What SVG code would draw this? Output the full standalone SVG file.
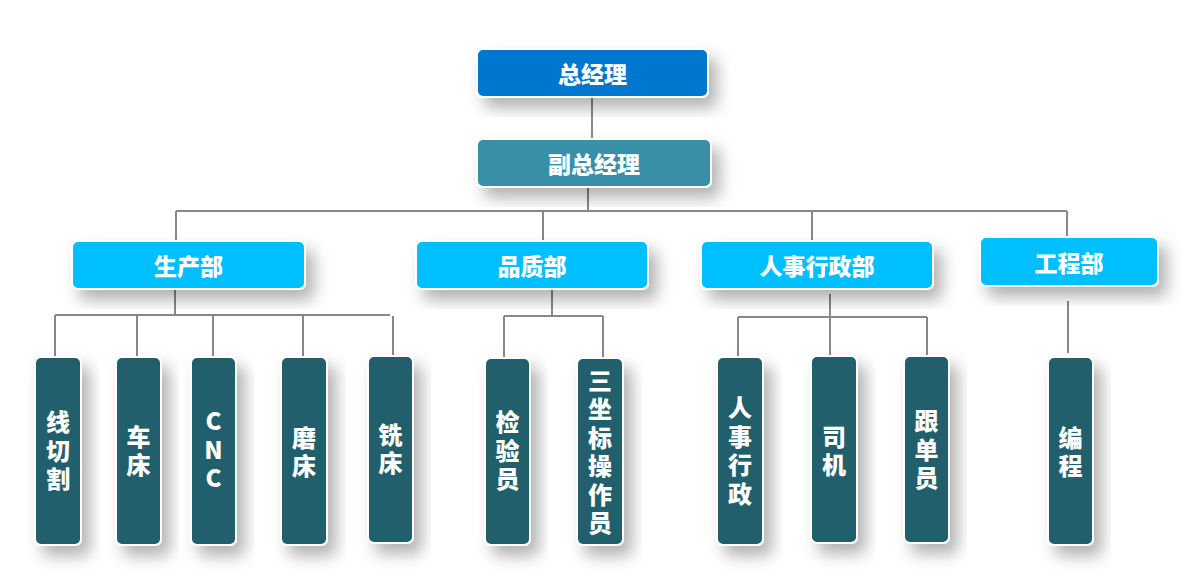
<svg xmlns="http://www.w3.org/2000/svg" width="1190" height="586" viewBox="0 0 1190 586">
<defs>
<filter id="sh" x="-40%" y="-40%" width="180%" height="180%">
<feDropShadow dx="8" dy="10" stdDeviation="8" flood-color="#000" flood-opacity="0.3"/>
</filter>
<style>
.box{stroke:#fff;stroke-width:2;filter:url(#sh)}
.top{fill:#0077CE}
.vice{fill:#378FA6}
.dept{fill:#00BFFF}
.leaf{fill:#235E6D}
.t{font-family:"Noto Sans CJK SC","Noto Sans",sans-serif;font-weight:900;fill:#fff;font-size:23px;text-anchor:middle;dominant-baseline:central}
.v{writing-mode:vertical-rl;text-orientation:upright;letter-spacing:4.5px;font-size:24px}
.ln{stroke:#888;stroke-width:2;fill:none}
</style>
</defs>
<rect width="1190" height="586" fill="#fff"/>
<g id="connectors">
<path class="ln" d="M592 97V139M588 187V211M176 211H1067M176 211V240M543 211V240M812 211V240M1067 211V237"/>
<path class="ln" d="M175 289V315M55 315H390M55 315V357M137 315V357M213 315V357M303 315V357M393 316V355"/>
<path class="ln" d="M552 289V316M504 316H603M504 316V358M603 316V358"/>
<path class="ln" d="M830 294V356M738 317H927M738 317V357M927 317V356"/>
<path class="ln" d="M1068 301V353"/>
</g>
<g id="n-gm"><rect class="box top" x="477" y="49" width="231" height="48" rx="6"/><text class="t" x="592.5" y="73">总经理</text></g>
<g id="n-vgm"><rect class="box vice" x="477" y="139" width="234" height="48" rx="6"/><text class="t" x="594" y="163">副总经理</text></g>
<g id="n-prod"><rect class="box dept" x="72" y="241" width="233" height="48" rx="6"/><text class="t" x="188.5" y="265">生产部</text></g>
<g id="n-qa"><rect class="box dept" x="416" y="241" width="232" height="48" rx="6"/><text class="t" x="532" y="265">品质部</text></g>
<g id="n-hr"><rect class="box dept" x="701" y="241" width="232" height="48" rx="6"/><text class="t" x="817" y="265">人事行政部</text></g>
<g id="n-eng"><rect class="box dept" x="980" y="237" width="178" height="49" rx="6"/><text class="t" x="1069" y="261.5">工程部</text></g>
<g id="n-xqg"><rect class="box leaf" x="35" y="357" width="46" height="188" rx="6"/><text class="t v" x="58" y="453">线切割</text></g>
<g id="n-cc"><rect class="box leaf" x="116" y="357" width="45" height="188" rx="6"/><text class="t v" x="138.5" y="453">车床</text></g>
<g id="n-cnc"><rect class="box leaf" x="191" y="357" width="45" height="188" rx="6"/><text class="t v" x="213.5" y="452">CNC</text></g>
<g id="n-mc"><rect class="box leaf" x="281" y="357" width="46" height="188" rx="6"/><text class="t v" x="304" y="454">磨床</text></g>
<g id="n-xc"><rect class="box leaf" x="368" y="356" width="45" height="187" rx="6"/><text class="t v" x="390.5" y="451">铣床</text></g>
<g id="n-jyy"><rect class="box leaf" x="485" y="358" width="45" height="187" rx="6"/><text class="t v" x="507.5" y="453">检验员</text></g>
<g id="n-szb"><rect class="box leaf" x="577" y="358" width="46" height="187" rx="6"/><text class="t v" x="600" y="454">三坐标操作员</text></g>
<g id="n-rsxz"><rect class="box leaf" x="717" y="357" width="46" height="188" rx="6"/><text class="t v" x="740" y="453">人事行政</text></g>
<g id="n-sj"><rect class="box leaf" x="811" y="356" width="46" height="187" rx="6"/><text class="t v" x="834" y="453">司机</text></g>
<g id="n-gdy"><rect class="box leaf" x="904" y="356" width="45" height="187" rx="6"/><text class="t v" x="926.5" y="452">跟单员</text></g>
<g id="n-bc"><rect class="box leaf" x="1048" y="357" width="45" height="188" rx="6"/><text class="t v" x="1070.5" y="454">编程</text></g>
</svg>
